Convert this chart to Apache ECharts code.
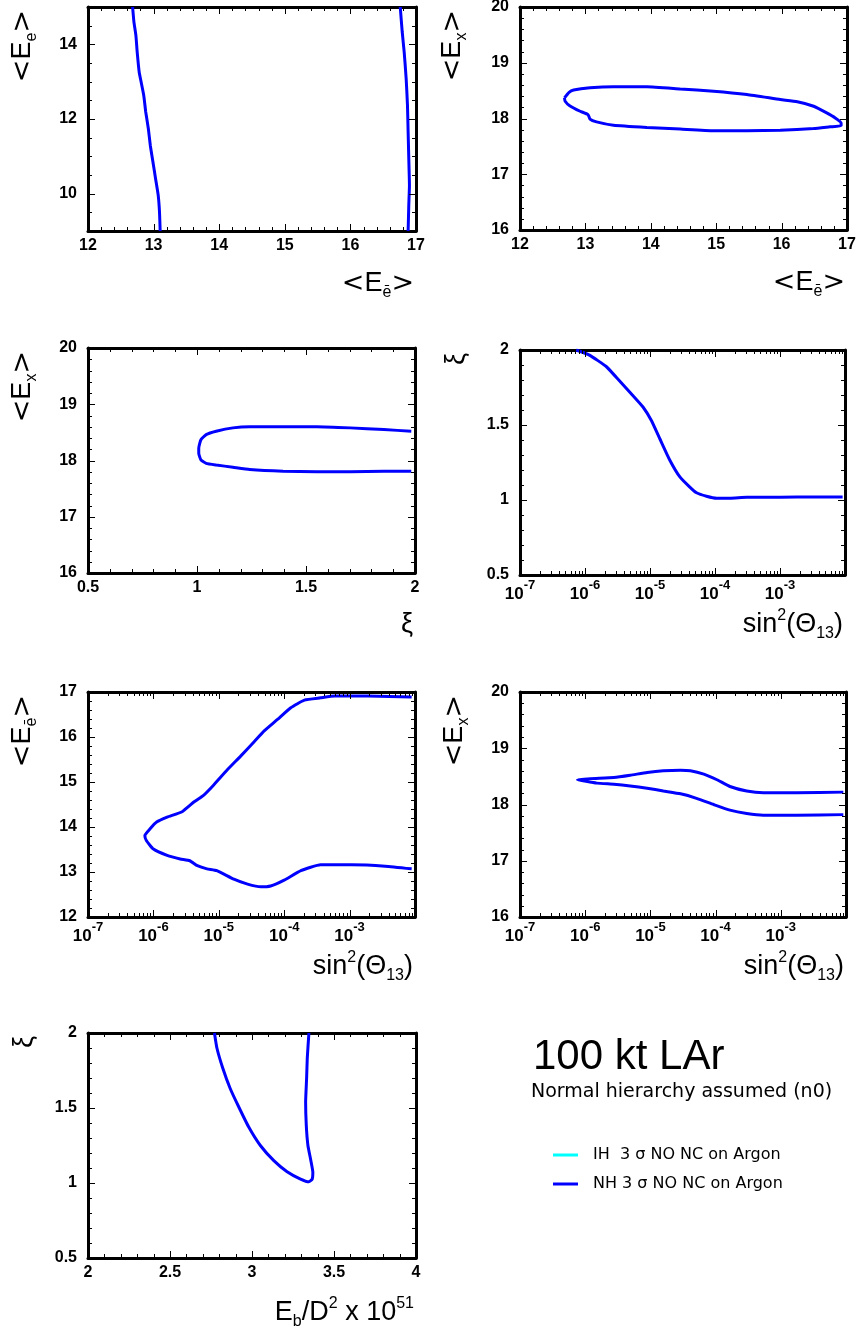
<!DOCTYPE html>
<html><head><meta charset="utf-8">
<script src="https://cdn.jsdelivr.net/npm/echarts@6/dist/echarts.min.js"></script>
<style>html,body{margin:0;padding:0;background:#fff}#c{width:856px;height:1330px}</style>
</head><body><div id="c"></div>
<script>
// ---------------- data ----------------
// Panel 1: <E_ebar> (x) vs <E_e> (y), two open branches
const p1Left = [[12.68,15.0],[12.70,14.60],[12.73,14.24],[12.75,13.79],[12.78,13.26],[12.81,12.99],[12.85,12.63],[12.88,12.19],[12.92,11.74],[12.95,11.29],[12.99,10.85],[13.03,10.40],[13.07,9.96],[13.09,9.51],[13.10,9.0]];
const p1Right = [[16.76,15.0],[16.79,14.33],[16.82,13.79],[16.85,13.08],[16.87,12.37],[16.88,11.65],[16.89,10.94],[16.90,10.22],[16.89,9.69],[16.88,9.0]];
// Panel 2: <E_ebar> (x) vs <E_x> (y), closed contour
const p2Contour = [[12.68,18.37],[12.75,18.47],[12.82,18.51],[13.07,18.55],[13.43,18.57],[13.94,18.57],[14.45,18.53],[14.96,18.49],[15.47,18.43],[15.98,18.34],[16.24,18.30],[16.49,18.22],[16.69,18.10],[16.82,18.01],[16.91,17.92],[16.91,17.87],[16.74,17.85],[16.49,17.82],[15.98,17.79],[15.47,17.78],[14.96,17.78],[14.45,17.81],[13.94,17.84],[13.43,17.88],[13.17,17.94],[13.07,17.99],[13.04,18.07],[12.92,18.13],[12.76,18.23],[12.69,18.31],[12.68,18.37]];
// Panel 3: xi (x) vs <E_x> (y)
const p3Contour = [[1.983,18.52],[1.857,18.55],[1.703,18.58],[1.549,18.60],[1.395,18.60],[1.242,18.60],[1.165,18.58],[1.088,18.52],[1.042,18.46],[1.018,18.37],[1.008,18.22],[1.008,18.13],[1.018,18.01],[1.042,17.95],[1.088,17.92],[1.165,17.88],[1.242,17.84],[1.395,17.81],[1.549,17.80],[1.703,17.80],[1.857,17.81],[1.983,17.81]];
// Panel 4: sin^2(theta13) (x) vs xi (y)
const p4Curve = [[7.3e-7,2.0],[1.17e-6,1.966],[2.12e-6,1.89],[3.0e-6,1.82],[4.86e-6,1.72],[7.8e-6,1.62],[1.05e-5,1.53],[1.41e-5,1.41],[2.01e-5,1.267],[2.88e-5,1.154],[4.1e-5,1.086],[5.2e-5,1.048],[7.4e-5,1.025],[1.06e-4,1.012],[1.7e-4,1.012],[3.08e-4,1.018],[5.6e-4,1.018],[1.82e-3,1.02],[9.2e-3,1.02]];
// Panel 5: sin^2(theta13) (x) vs <E_ebar> (y)
const p5Contour = [[8.9e-3,16.89],[1.9e-3,16.91],[5.9e-4,16.91],[3.6e-4,16.87],[2.04e-4,16.82],[1.26e-4,16.65],[7.9e-5,16.39],[4.9e-5,16.13],[3.5e-5,15.90],[2.14e-5,15.57],[1.35e-5,15.27],[8.3e-6,14.93],[5.9e-6,14.71],[4.2e-6,14.56],[2.75e-6,14.34],[1.62e-6,14.22],[1.12e-6,14.11],[8.9e-7,13.96],[7.4e-7,13.81],[7.8e-7,13.70],[1.0e-6,13.51],[1.62e-6,13.37],[2.57e-6,13.29],[3.6e-6,13.25],[4.7e-6,13.14],[6.6e-6,13.07],[9.3e-6,13.03],[1.7e-5,12.84],[2.75e-5,12.73],[4.4e-5,12.67],[6.2e-5,12.69],[1.0e-4,12.82],[1.8e-4,13.03],[3.6e-4,13.16],[1.07e-3,13.16],[3.5e-3,13.13],[8.9e-3,13.07]];
// Panel 6: sin^2(theta13) (x) vs <E_x> (y)
const p6Contour = [[9.1e-3,18.22],[1.74e-3,18.21],[5.4e-4,18.21],[3.0e-4,18.24],[1.66e-4,18.32],[1.05e-4,18.44],[6.6e-5,18.54],[4.1e-5,18.60],[2.9e-5,18.61],[1.58e-5,18.60],[8.9e-6,18.57],[4.9e-6,18.52],[2.75e-6,18.48],[1.2e-6,18.46],[7.6e-7,18.44],[7.6e-7,18.43],[1.5e-6,18.38],[2.75e-6,18.36],[4.9e-6,18.33],[8.9e-6,18.29],[1.58e-5,18.24],[2.9e-5,18.19],[5.1e-5,18.11],[9.3e-5,18.00],[1.66e-4,17.90],[3.0e-4,17.84],[5.4e-4,17.81],[1.74e-3,17.81],[9.1e-3,17.82]];
// Panel 7: Eb/D^2 x 1e51 (x) vs xi (y)
const p7Contour = [[2.771,2.0],[2.786,1.90],[2.822,1.765],[2.867,1.63],[2.918,1.51],[2.98,1.373],[3.051,1.25],[3.133,1.149],[3.214,1.075],[3.296,1.026],[3.347,1.008],[3.367,1.026],[3.371,1.071],[3.357,1.16],[3.341,1.25],[3.331,1.384],[3.327,1.54],[3.333,1.698],[3.337,1.832],[3.347,2.0]];

const p1yLabels = [10, 12, 14];
const seriesNames = ['IH  3 \u03c3 NO NC on Argon', 'NH 3 \u03c3 NO NC on Argon'];
const seriesColors = ['#00ffff', '#0000ff'];
const headline = '100 kt LAr';
const subline = 'Normal hierarchy assumed (n0)';

// axis titles (rich text)
const tEbar = '{a|<}{e|E}{sub|\u0113}{a|>}';
const tEe = '{a|<}{e|E}{sub|e}{a|>}';
const tEx = '{a|<}{e|E}{sub|x}{a|>}';
const tXi = '{g|\u03be}';
const tSin = '{t|sin}{sup|2}{t|(\u0398}{sub|13}{t|)}';
const tEb = '{t|E}{sub|b}{t|/D}{sup|2}{t| x 10}{sup|51}';

// ---------------- layout / style ----------------
const FONT = "'Liberation Sans', Arial, sans-serif";
const MAJOR_LEN = 7, MINOR_LEN = 4;
const nameRich = {
  a: {fontFamily: 'DejaVu Sans', fontSize: 27, lineHeight: 34, verticalAlign: 'middle', color: '#000'},
  e: {fontFamily: FONT, fontSize: 27, lineHeight: 34, verticalAlign: 'middle', color: '#000'},
  t: {fontFamily: FONT, fontSize: 27, lineHeight: 34, verticalAlign: 'middle', color: '#000'},
  g: {fontFamily: FONT, fontSize: 27, lineHeight: 34, verticalAlign: 'middle', color: '#000'},
  sub: {fontFamily: FONT, fontSize: 16, lineHeight: 16, verticalAlign: 'bottom', color: '#000'},
  sup: {fontFamily: FONT, fontSize: 16, lineHeight: 16, verticalAlign: 'top', color: '#000'}
};
const logRich = {
  b: {fontFamily: FONT, fontSize: 17, fontWeight: 'bold', lineHeight: 24, verticalAlign: 'bottom', color: '#000'},
  s: {fontFamily: FONT, fontSize: 13, fontWeight: 'bold', lineHeight: 13, verticalAlign: 'top', color: '#000'}
};
function logFmt(v) {
  const e = Math.round(Math.log10(v));
  if (e > -3) return ' ';
  return '{b|10}{s|' + e + '}';
}
function p1yFmt(v) {
  return p1yLabels.indexOf(v) >= 0 ? String(v) : ' ';
}

const LOGX = {log: true, min: 1e-7, max: 1e-2};
const panels = [
  {left: 88, top: 7, w: 328, h: 224, x: {min: 12, max: 17, interval: 1, majorStep: 1, minorStep: 0.2}, y: {min: 9, max: 15, interval: 1, majorStep: 2, minorStep: 0.5, fmt: p1yFmt},
   xName: tEbar, xPad: 36, yName: tEe, yPad: 48, lines: [p1Left, p1Right]},
  {left: 520, top: 7, w: 327, h: 223, x: {min: 12, max: 17, interval: 1, majorStep: 1, minorStep: 0.2}, y: {min: 16, max: 20, interval: 1, majorStep: 1, minorStep: 0.2},
   xName: tEbar, xPad: 36, yName: tEx, yPad: 50, lines: [p2Contour]},
  {left: 88, top: 348, w: 327, h: 225, x: {min: 0.5, max: 2, interval: 0.5, majorStep: 0.5, minorStep: 0.1}, y: {min: 16, max: 20, interval: 1, majorStep: 1, minorStep: 0.2},
   xName: tXi, xPad: 35, yName: tEx, yPad: 48, lines: [p3Contour]},
  {left: 520, top: 350, w: 325, h: 225, x: LOGX, y: {min: 0.5, max: 2, interval: 0.5, majorStep: 0.5, minorStep: 0.1},
   xName: tSin, xPad: 33, yName: tXi, yPad: 46, lines: [p4Curve]},
  {left: 88, top: 692, w: 327, h: 225, x: LOGX, y: {min: 12, max: 17, interval: 1, majorStep: 1, minorStep: 0.2},
   xName: tSin, xPad: 33, yName: tEbar, yPad: 48, lines: [p5Contour]},
  {left: 520, top: 692, w: 326, h: 225, x: LOGX, y: {min: 16, max: 20, interval: 1, majorStep: 1, minorStep: 0.2},
   xName: tSin, xPad: 33, yName: tEx, yPad: 48, lines: [p6Contour]},
  {left: 88, top: 1033, w: 328, h: 225, x: {min: 2, max: 4, interval: 0.5, majorStep: 0.5, minorStep: 0.1}, y: {min: 0.5, max: 2, interval: 0.5, majorStep: 0.5, minorStep: 0.1},
   xName: tEb, xPad: 38, yName: tXi, yPad: 46, lines: [p7Contour]}
];

// tick positions (values only; pixels come from the axes via api.coord)
function tickValues(spec) {
  const out = [];
  if (spec.log) {
    const e0 = Math.round(Math.log10(spec.min)), e1 = Math.round(Math.log10(spec.max));
    for (let e = e0; e < e1; e++) {
      for (let m = 1; m <= 9; m++) {
        const v = m * Math.pow(10, e);
        if (v > spec.min * 1.0001 && v < spec.max * 0.9999) out.push([v, m === 1]);
      }
    }
    return out;
  }
  const n = Math.round((spec.max - spec.min) / spec.minorStep);
  for (let i = 1; i < n; i++) {
    const v = +(spec.min + i * spec.minorStep).toFixed(6);
    const r = v / spec.majorStep;
    out.push([v, Math.abs(r - Math.round(r)) < 1e-6]);
  }
  return out;
}
function tickRender(params, api) {
  const cs = params.coordSys;
  const kind = api.value(2);
  const len = api.value(3);
  const p = api.coord([api.value(0), api.value(1)]);
  if (kind === 0) {
    const x = Math.round(p[0]) + 0.5;
    const yb = cs.y + cs.height, yt = cs.y;
    return {type: 'group', children: [
      {type: 'line', shape: {x1: x, y1: yb, x2: x, y2: yb - len}, style: {stroke: '#000', lineWidth: 1}},
      {type: 'line', shape: {x1: x, y1: yt, x2: x, y2: yt + len}, style: {stroke: '#000', lineWidth: 1}}
    ]};
  }
  const y = Math.round(p[1]) + 0.5;
  const xl = cs.x, xr = cs.x + cs.width;
  return {type: 'group', children: [
    {type: 'line', shape: {x1: xl, y1: y, x2: xl + len, y2: y}, style: {stroke: '#000', lineWidth: 1}},
    {type: 'line', shape: {x1: xr, y1: y, x2: xr - len, y2: y}, style: {stroke: '#000', lineWidth: 1}}
  ]};
}

const grid = [], xAxis = [], yAxis = [], series = [];

function makeAxis(spec, gi, pos, labels) {
  const horizontal = (pos === 'bottom' || pos === 'top');
  const a = {
    gridIndex: gi, position: pos, type: spec.log ? 'log' : 'value',
    min: spec.min, max: spec.max,
    axisLine: {show: true, onZero: false, lineStyle: {color: '#000', width: 3}},
    axisTick: {show: false}, minorTick: {show: false},
    splitLine: {show: false}, minorSplitLine: {show: false},
    axisLabel: {show: labels, color: '#000', fontFamily: FONT, fontSize: 16, fontWeight: 'bold',
      margin: horizontal ? 7 : 11, hideOverlap: false}
  };
  if (spec.log) {
    a.logBase = 10;
    a.axisLabel.formatter = logFmt;
    a.axisLabel.rich = logRich;
    a.axisLabel.margin = 4;
  } else {
    a.interval = spec.interval;
  }
  if (spec.fmt) a.axisLabel.formatter = spec.fmt;
  return a;
}

panels.forEach(function (p, gi) {
  grid.push({left: p.left, top: p.top, width: p.w, height: p.h, containLabel: false, outerBoundsMode: 'none'});
  const xb = makeAxis(p.x, gi, 'bottom', true);
  xb.name = p.xName; xb.nameLocation = 'end'; xb.nameGap = 0;
  xb.nameTextStyle = {align: 'right', verticalAlign: 'top', padding: [p.xPad, 2, 0, 0], rich: nameRich};
  const xIdx = xAxis.length;
  xAxis.push(xb);
  xAxis.push(makeAxis(p.x, gi, 'top', false));
  const yl = makeAxis(p.y, gi, 'left', true);
  yl.name = p.yName; yl.nameLocation = 'end'; yl.nameGap = 0; yl.nameRotate = 90;
  yl.nameTextStyle = {align: 'right', verticalAlign: 'bottom', padding: [0, 3, p.yPad, 0], rich: nameRich};
  const yIdx = yAxis.length;
  yAxis.push(yl);
  yAxis.push(makeAxis(p.y, gi, 'right', false));

  // ticks on all four sides of the frame
  const tickData = [];
  tickValues(p.x).forEach(function (t) { tickData.push([t[0], p.y.min, 0, t[1] ? MAJOR_LEN : MINOR_LEN]); });
  tickValues(p.y).forEach(function (t) { tickData.push([p.x.min, t[0], 1, t[1] ? MAJOR_LEN : MINOR_LEN]); });
  series.push({
    type: 'custom', xAxisIndex: xIdx, yAxisIndex: yIdx, data: tickData, renderItem: tickRender,
    clip: false, silent: true, z: 6
  });

  p.lines.forEach(function (d) {
    series.push({
      name: seriesNames[1], type: 'line', xAxisIndex: xIdx, yAxisIndex: yIdx, data: d,
      showSymbol: false, symbol: 'none', smooth: 0.15, clip: true,
      lineStyle: {color: seriesColors[1], width: 3}, itemStyle: {color: seriesColors[1]},
      z: 5
    });
  });
});
// IH series (no visible contour in this figure)
series.unshift({
  name: seriesNames[0], type: 'line', xAxisIndex: 0, yAxisIndex: 0, data: [],
  showSymbol: false, symbol: 'none', lineStyle: {color: seriesColors[0], width: 3}, itemStyle: {color: seriesColors[0]}
});

const chart = echarts.init(document.getElementById('c'), null, {renderer: 'canvas'});
chart.setOption({
  animation: false,
  backgroundColor: '#fff',
  title: [
    {text: headline, left: 533, top: 1036, padding: 0, textStyle: {fontFamily: FONT, fontSize: 42, fontWeight: 'normal', color: '#000'}},
    {text: subline, left: 531, top: 1083, padding: 0, textStyle: {fontFamily: 'DejaVu Sans', fontSize: 19, fontWeight: 'normal', color: '#000'}}
  ],
  legend: {
    data: seriesNames, orient: 'vertical', left: 553, top: 1147, padding: 0,
    icon: 'rect', itemWidth: 25, itemHeight: 3, itemGap: 13,
    textStyle: {fontFamily: 'DejaVu Sans', fontSize: 16, color: '#000', padding: [0, 0, 0, 10]},
    selectedMode: false
  },
  grid: grid, xAxis: xAxis, yAxis: yAxis, series: series
});
</script></body></html>
